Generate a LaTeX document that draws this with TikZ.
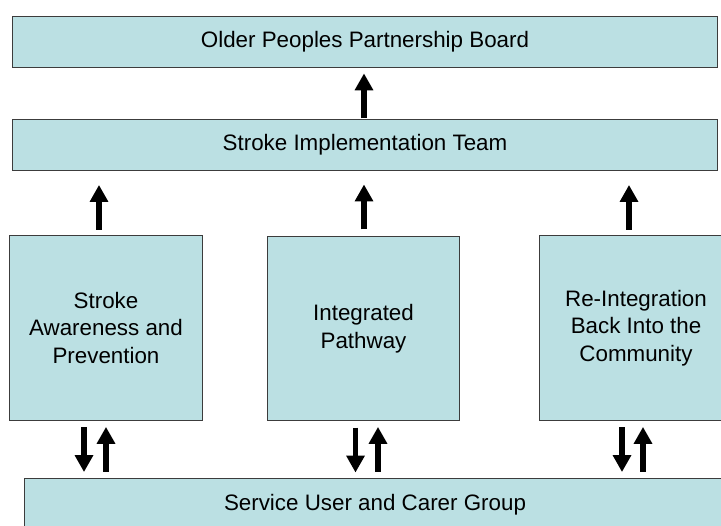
\documentclass[tikz,border=0pt]{standalone}
\usepackage{fontspec}
\setmainfont{Liberation Sans}
\usetikzlibrary{arrows.meta}
\definecolor{boxfill}{RGB}{187,224,227}
\definecolor{boxline}{RGB}{60,60,60}
\begin{document}
\begin{tikzpicture}[x=0.025cm,y=-0.025cm,
	box/.style={draw=boxline,fill=boxfill,line width=0.7pt,inner sep=0pt,outer sep=0pt,
		align=center,font=\fontsize{15.9}{19.6}\selectfont},
	wide/.style={box,minimum width=17.6cm,minimum height=1.28cm},
	tall/.style={box,minimum width=4.8cm,minimum height=4.6cm},
	arr/.style={line width=3.6pt,-{Triangle[width=12.5pt,length=12pt]}}]
	\clip (0,0) rectangle (721,525);
	\node[wide] at (365,41.7) (board) {Older Peoples Partnership Board};
	\node[wide] at (365,145) (team) {Stroke Implementation Team};
	\node[tall] at (106,328) (aware) {Stroke\\Awareness and\\Prevention};
	\node[tall] at (363.5,328.5) (path) {Integrated\\Pathway};
	\node[tall] at (636,328) (reint) {Re-Integration\\Back Into the\\Community};
	\node[wide,minimum width=17.5cm] at (375,504.5) (users) {Service User and Carer Group};
	\draw[arr] (team.north) ++(-1,-1) -- ++(0,-45);
	\draw[arr] (aware.north) ++(-7,-6) -- ++(0,-45);
	\draw[arr] (path.north) ++(0.5,-7) -- ++(0,-45);
	\draw[arr] (reint.north) ++(-7,-6) -- ++(0,-45);
	\draw[arr] (aware.south) ++(-22,7) -- ++(0,45);
	\draw[arr] (users.north) ++(-269,-7) -- ++(0,-45);
	\draw[arr] (path.south) ++(-8,7) -- ++(0,45);
	\draw[arr] (users.north) ++(3,-7) -- ++(0,-45);
	\draw[arr] (reint.south) ++(-14,7) -- ++(0,45);
	\draw[arr] (users.north) ++(268,-7) -- ++(0,-45);
\end{tikzpicture}
\end{document}
